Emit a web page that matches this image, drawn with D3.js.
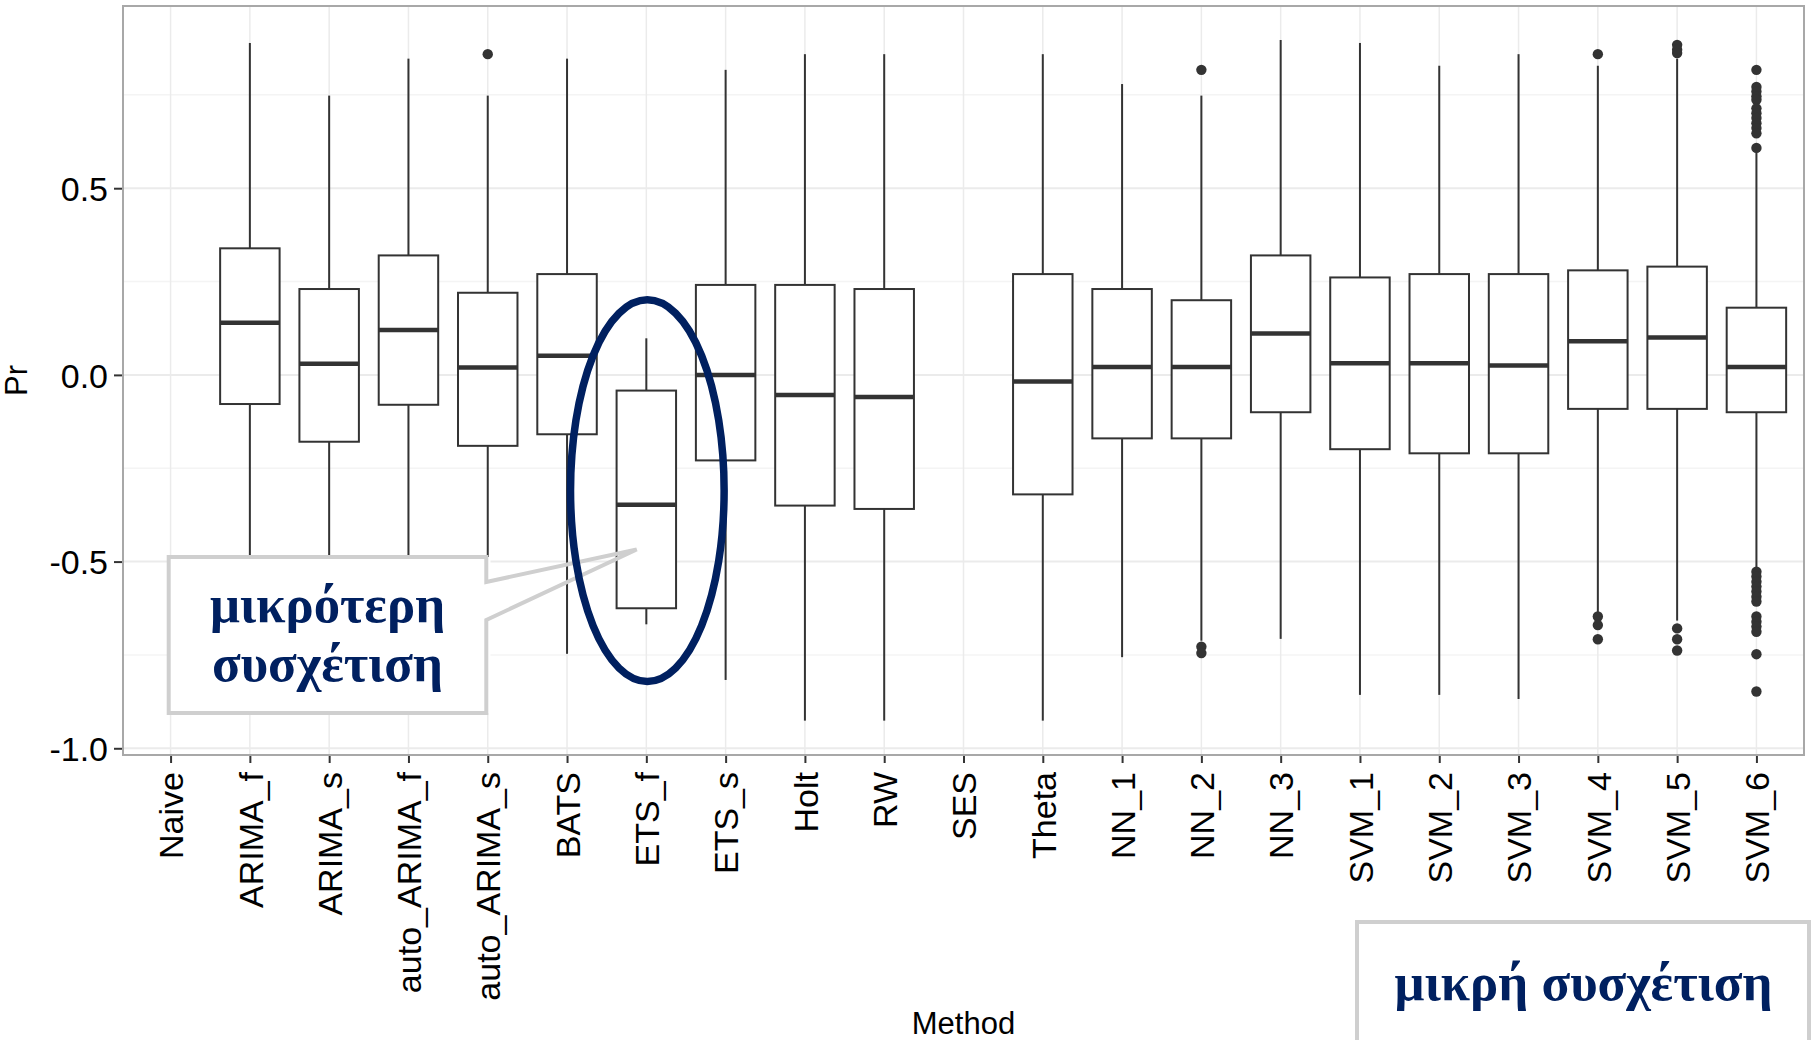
<!DOCTYPE html>
<html><head><meta charset="utf-8">
<script src="https://cdn.jsdelivr.net/npm/d3@7"></script>
<style>html,body{margin:0;padding:0;background:#fff;} svg{display:block}</style>
</head><body><svg id="c" width="1812" height="1040"></svg>
<script>
// ---- data ----
const categories = ["Naive","ARIMA_f","ARIMA_s","auto_ARIMA_f","auto_ARIMA_s","BATS","ETS_f","ETS_s","Holt","RW","SES","Theta","NN_1","NN_2","NN_3","SVM_1","SVM_2","SVM_3","SVM_4","SVM_5","SVM_6"];
const whiskerLow  = [null,-0.82,-0.80,-0.82,-0.80,-0.747,-0.668,-0.817,-0.926,-0.926,null,-0.926,-0.756,-0.712,-0.707,-0.857,-0.857,-0.868,-0.638,-0.658,-0.518];
const q1          = [null,-0.078,-0.179,-0.080,-0.190,-0.159,-0.625,-0.229,-0.350,-0.359,null,-0.320,-0.170,-0.170,-0.100,-0.199,-0.210,-0.210,-0.091,-0.091,-0.100];
const medians     = [null,0.140,0.030,0.120,0.020,0.051,-0.348,0.000,-0.054,-0.059,null,-0.018,0.021,0.021,0.111,0.031,0.031,0.025,0.090,0.100,0.021];
const q3          = [null,0.339,0.230,0.320,0.220,0.270,-0.042,0.241,0.241,0.230,null,0.270,0.230,0.200,0.320,0.261,0.270,0.270,0.280,0.290,0.180];
const whiskerHigh = [null,0.889,0.748,0.847,0.748,0.847,0.098,0.817,0.859,0.859,null,0.859,0.779,0.748,0.897,0.889,0.828,0.859,0.828,0.847,0.598];
const outliers = [
  [],[],[],[],[0.859],[],[],[],[],[],[],[],[],
  [0.817,-0.728,-0.745],
  [],[],[],[],
  [0.859,-0.647,-0.670,-0.708],
  [0.884,0.871,0.862,-0.679,-0.708,-0.738],
  [0.817,0.771,0.759,0.746,0.737,0.714,0.701,0.688,0.674,0.661,0.647,0.608,
   -0.527,-0.540,-0.554,-0.567,-0.580,-0.594,-0.607,-0.647,-0.661,-0.674,-0.688,-0.748,-0.848]
];
const yTicks = [-1.0,-0.5,0.0,0.5];
const yTickLabels = ["-1.0","-0.5","0.0","0.5"];
const yMinor = [-0.75,-0.25,0.25,0.75];
const yDomain = [-1.018, 0.988];
const xTitle = "Method", yTitle = "Pr";
const note1 = ["μικρότερη","συσχέτιση"];
const note2 = "μικρή συσχέτιση";

// ---- layout ----
const svg = d3.select("#c");
const P = {l:123, r:1804, t:6, b:755};
const x = d3.scalePoint().domain(categories).range([P.l, P.r]).padding(0.6);
const y = d3.scaleLinear().domain(yDomain).range([P.b, P.t]);
const step = x.step();
const bw = step*0.75;
const ink = "#333333";
const sans = "'Liberation Sans', Arial, sans-serif";

svg.append("rect").attr("width",1812).attr("height",1040).attr("fill","#fff");

// grid
const g = svg.append("g");
g.selectAll(".ymin").data(yMinor).join("line")
  .attr("x1",P.l).attr("x2",P.r).attr("y1",d=>y(d)).attr("y2",d=>y(d))
  .attr("stroke","#f4f4f4").attr("stroke-width",1.5);
g.selectAll(".ymaj").data(yTicks).join("line")
  .attr("x1",P.l).attr("x2",P.r).attr("y1",d=>y(d)).attr("y2",d=>y(d))
  .attr("stroke","#ebebeb").attr("stroke-width",2);
g.selectAll(".xg").data(categories).join("line")
  .attr("x1",d=>x(d)).attr("x2",d=>x(d)).attr("y1",P.t).attr("y2",P.b)
  .attr("stroke","#ebebeb").attr("stroke-width",1.5);

// boxes
const stats = categories.map((c,i)=>({c, lo:whiskerLow[i], q1:q1[i], med:medians[i], q3:q3[i], hi:whiskerHigh[i], out:outliers[i]}))
  .filter(d=>d.med!==null);
const bg = svg.append("g");
bg.selectAll(".wh").data(stats).join("line")
  .attr("x1",d=>x(d.c)).attr("x2",d=>x(d.c)).attr("y1",d=>y(d.q3)).attr("y2",d=>y(d.hi))
  .attr("stroke",ink).attr("stroke-width",2);
bg.selectAll(".wl").data(stats).join("line")
  .attr("x1",d=>x(d.c)).attr("x2",d=>x(d.c)).attr("y1",d=>y(d.q1)).attr("y2",d=>y(d.lo))
  .attr("stroke",ink).attr("stroke-width",2);
bg.selectAll(".bx").data(stats).join("rect")
  .attr("x",d=>x(d.c)-bw/2).attr("width",bw)
  .attr("y",d=>y(d.q3)).attr("height",d=>y(d.q1)-y(d.q3))
  .attr("fill","#fff").attr("stroke",ink).attr("stroke-width",2);
bg.selectAll(".md").data(stats).join("line")
  .attr("x1",d=>x(d.c)-bw/2).attr("x2",d=>x(d.c)+bw/2).attr("y1",d=>y(d.med)).attr("y2",d=>y(d.med))
  .attr("stroke",ink).attr("stroke-width",4.5);
const pts = stats.flatMap(d=>d.out.map(v=>({c:d.c,v})));
bg.selectAll(".pt").data(pts).join("circle")
  .attr("cx",d=>x(d.c)).attr("cy",d=>y(d.v)).attr("r",5.2).attr("fill",ink);

// panel border
svg.append("rect").attr("x",P.l).attr("y",P.t).attr("width",P.r-P.l).attr("height",P.b-P.t)
  .attr("fill","none").attr("stroke","#a8a8a8").attr("stroke-width",2);

// axes
const ya = svg.append("g").attr("transform",`translate(${P.l-1},0)`)
  .call(d3.axisLeft(y).tickValues(yTicks).tickFormat((d,i)=>yTickLabels[i]).tickSize(8).tickPadding(6));
ya.select(".domain").remove();
ya.selectAll("line").attr("stroke",ink).attr("stroke-width",2);
ya.selectAll("text").attr("font-family",sans).attr("font-size",34).attr("fill","#000").attr("dy","0.36em");

const xa = svg.append("g").attr("transform",`translate(0,${P.b+1})`)
  .call(d3.axisBottom(x).tickSize(7));
xa.select(".domain").remove();
xa.selectAll("line").attr("stroke",ink).attr("stroke-width",2);
xa.selectAll("text").attr("font-family",sans).attr("font-size",34).attr("fill","#000")
  .attr("transform","rotate(-90)").attr("text-anchor","end")
  .attr("x",-16).attr("y",0).attr("dy","0.36em");

svg.append("text").text(xTitle).attr("x",(P.l+P.r)/2).attr("y",1034)
  .attr("text-anchor","middle").attr("font-family",sans).attr("font-size",31).attr("fill","#000");
svg.append("text").text(yTitle).attr("transform",`translate(27,${(P.t+P.b)/2}) rotate(-90)`)
  .attr("text-anchor","middle").attr("font-family",sans).attr("font-size",31).attr("fill","#000");

// ---- annotations ----
const navy = "#002060", calloutStroke = "#cfcfcf";
const serif = "'Liberation Serif', 'Times New Roman', serif";
// callout 1
svg.append("rect").attr("x",168.7).attr("y",557).attr("width",490.5-168.7).attr("height",713-557).attr("fill","#fff");
svg.append("path")
  .attr("d","M168.7,557 H486.3 V582 L636.7,549.5 L486.3,620 V713 H168.7 Z")
  .attr("fill","none").attr("stroke",calloutStroke).attr("stroke-width",4).attr("stroke-linejoin","miter");
// callout 2
svg.append("rect").attr("x",1357).attr("y",922).attr("width",1809-1357).attr("height",200)
  .attr("fill","#fff").attr("stroke",calloutStroke).attr("stroke-width",4);

// ellipse around ETS_f
svg.append("ellipse").attr("cx",x("ETS_f")+1).attr("cy",y(-0.31)).attr("rx",76.8).attr("ry",190.8)
  .attr("fill","none").attr("stroke",navy).attr("stroke-width",7.5);

const t1 = svg.append("text").attr("font-family",serif).attr("font-weight","bold").attr("fill",navy)
  .attr("text-anchor","middle").attr("font-size",50);
t1.append("tspan").attr("x",327.5).attr("y",622).text(note1[0]);
const ts2 = t1.append("tspan").attr("x",327.5).attr("y",681).text(note1[1]);
const w = ts2.node().getComputedTextLength();
const fs = 50*231/w;
t1.attr("font-size",fs);
svg.append("text").attr("font-family",serif).attr("font-weight","bold").attr("fill",navy)
  .attr("text-anchor","middle").attr("font-size",fs).attr("x",1583.5).attr("y",1000).text(note2);
</script></body></html>
